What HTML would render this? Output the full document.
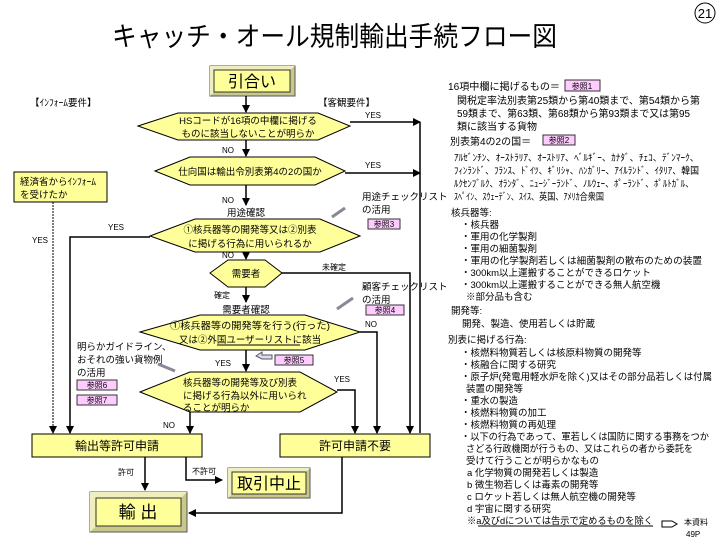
<!DOCTYPE html>
<html><head><meta charset="utf-8">
<style>
html,body{margin:0;padding:0;background:#fff;}
svg{display:block;}
text{font-family:"Liberation Sans","Noto Sans CJK JP",sans-serif;fill:#000;}
.s{font-size:9.5px;}
.xs{font-size:8px;}
.r{font-size:10px;}
</style></head><body>
<svg width="720" height="540" viewBox="0 0 720 540" xmlns="http://www.w3.org/2000/svg">
<defs>
<marker id="a" markerWidth="8" markerHeight="8" refX="7" refY="4" orient="auto" markerUnits="userSpaceOnUse">
<path d="M0,0 L8,4 L0,8 z" fill="#000"/></marker>
</defs>
<text x="112" y="46" style="font-size:27px" textLength="445" lengthAdjust="spacingAndGlyphs">キャッチ・オール規制輸出手続フロー図</text>
<circle cx="705" cy="13" r="10" fill="none" stroke="#000"/>
<text x="705" y="18" text-anchor="middle" style="font-size:13px">21</text>

<g>
<rect x="210" y="66" width="85" height="30" fill="#c8c88a" stroke="#555"/>
<polygon points="210,66 295,66 290,70 214,70 214,92 210,96" fill="#eeeec0"/>
<rect x="214" y="70" width="76" height="22" fill="#ffff99" stroke="#333"/>
<text x="252" y="87" text-anchor="middle" style="font-size:16px">引合い</text>
</g>
<g>
<rect x="228" y="468" width="82" height="30" fill="#c8c88a" stroke="#555"/>
<polygon points="228,468 310,468 306,472 232,472 232,494 228,498" fill="#eeeec0"/>
<rect x="232" y="472" width="74" height="22" fill="#ffff99" stroke="#333"/>
<text x="269" y="489" text-anchor="middle" style="font-size:16px">取引中止</text>
</g>
<g>
<rect x="90" y="492" width="97" height="40" fill="#c8c88a" stroke="#555"/>
<polygon points="90,492 187,492 181,498 96,498 96,526 90,532" fill="#eeeec0"/>
<rect x="96" y="498" width="85" height="28" fill="#ffff99" stroke="#333"/>
<text x="138" y="518" text-anchor="middle" style="font-size:17px">輸 出</text>
</g>

<text x="30" y="106" class="s">【ｲﾝﾌｫｰﾑ要件】</text>
<text x="318" y="106" class="s">【客観要件】</text>

<g fill="#ffff99" stroke="#000" stroke-width="1">
<polygon points="138,126 178,113 318,113 350,126 318,140 178,140"/>
<polygon points="155,171 190,157 315,157 345,171 315,185 190,185"/>
<polygon points="150,236 195,219 320,219 360,236 320,252 195,252"/>
<polygon points="210,273 228,260 265,260 282,273 265,287 228,287"/>
<polygon points="140,332 200,315 305,315 360,332 305,350 200,350"/>
<polygon points="140,392 190,372 300,372 337,392 300,412 190,412"/>
<rect x="14" y="172" width="93" height="30"/>
<rect x="32" y="434" width="170" height="23"/>
<rect x="280" y="434" width="150" height="23"/>
</g>
<text x="248" y="124" text-anchor="middle" class="s">HSコードが16項の中欄に掲げる</text>
<text x="248" y="137" text-anchor="middle" class="s">ものに該当しないことが明らか</text>
<text x="250" y="175" text-anchor="middle" class="s">仕向国は輸出令別表第4の2の国か</text>
<text x="250" y="233" text-anchor="middle" class="s">①核兵器等の開発等又は②別表</text>
<text x="250" y="247" text-anchor="middle" class="s">に掲げる行為に用いられるか</text>
<text x="246" y="277" text-anchor="middle" class="s">需要者</text>
<text x="250" y="329" text-anchor="middle" class="s" textLength="160" lengthAdjust="spacingAndGlyphs">①核兵器等の開発等を行う(行った)</text>
<text x="250" y="343" text-anchor="middle" class="s">又は②外国ユーザーリストに該当</text>
<line x1="217" y1="345" x2="300" y2="345" stroke="#000"/>
<text x="183" y="386" class="s">核兵器等の開発等及び別表</text>
<text x="183" y="399" class="s">に掲げる行為以外に用いられ</text>
<text x="183" y="411" class="s">ることが明らか</text>
<text x="20" y="185" class="s">経済省からｲﾝﾌｫｰﾑ</text>
<text x="20" y="198" class="s">を受けたか</text>
<text x="117" y="450" text-anchor="middle" style="font-size:12px">輸出等許可申請</text>
<text x="355" y="450" text-anchor="middle" style="font-size:12px">許可申請不要</text>

<g stroke="#000" stroke-width="1.5" fill="none">
<line x1="246" y1="96" x2="246" y2="112" marker-end="url(#a)"/>
<line x1="246" y1="140" x2="246" y2="156" marker-end="url(#a)"/>
<line x1="246" y1="185" x2="246" y2="205" marker-end="url(#a)"/>
<line x1="246" y1="252" x2="246" y2="259" marker-end="url(#a)"/>
<line x1="246" y1="287" x2="246" y2="302" marker-end="url(#a)"/>
<line x1="246" y1="350" x2="246" y2="371" marker-end="url(#a)"/>
<polyline points="350,122 420,122" marker-end="url(#a)"/>
<polyline points="345,173 420,173" marker-end="url(#a)"/>
<polyline points="150,237 70,237 70,433" marker-end="url(#a)"/>
<polyline points="282,273 410,273 410,433" marker-end="url(#a)"/>
<polyline points="360,332 377,332 377,433" marker-end="url(#a)"/>
<polyline points="337,390 355,390 355,433" marker-end="url(#a)"/>
<line x1="190" y1="412" x2="190" y2="433" marker-end="url(#a)"/>
<line x1="145" y1="457" x2="145" y2="490" marker-end="url(#a)"/>
<polyline points="186,457 186,480 222,480" marker-end="url(#a)"/>
<polyline points="342,457 342,513 189,513" marker-end="url(#a)"/>
</g>
<line x1="420" y1="122" x2="420" y2="433" stroke="#000" stroke-width="1.5"/>
<line x1="53" y1="202" x2="53" y2="433" stroke="#000" stroke-width="1" stroke-dasharray="2,1" marker-end="url(#a)"/>

<text x="365" y="118" class="xs">YES</text>
<text x="365" y="168" class="xs">YES</text>
<text x="222" y="153" class="xs">NO</text>
<text x="222" y="203" class="xs">NO</text>
<text x="222" y="258" class="xs">NO</text>
<text x="108" y="230" class="xs">YES</text>
<text x="32" y="243" class="xs">YES</text>
<text x="322" y="270" class="xs">未確定</text>
<text x="214" y="298" class="xs">確定</text>
<text x="365" y="327" class="xs">NO</text>
<text x="215" y="366" class="xs">YES</text>
<text x="334" y="382" class="xs">YES</text>
<text x="163" y="428" class="xs">NO</text>
<text x="118" y="475" class="xs">許可</text>
<text x="192" y="474" class="xs">不許可</text>
<text x="246" y="216" text-anchor="middle" class="s">用途確認</text>
<text x="246" y="313" text-anchor="middle" class="s">需要者確認</text>

<text x="362" y="200" class="s">用途チェックリスト</text>
<text x="362" y="213" class="s">の活用</text>
<text x="362" y="290" class="s">顧客チェックリスト</text>
<text x="362" y="303" class="s">の活用</text>
<text x="77" y="350" class="s">明らかガイドライン、</text>
<text x="77" y="363" class="s">おそれの強い貨物例</text>
<text x="77" y="376" class="s">の活用</text>

<g fill="#ffccff" stroke="#333">
<rect x="565" y="80" width="35" height="11"/>
<rect x="543" y="135" width="32" height="10"/>
<rect x="368" y="219" width="32" height="10"/>
<rect x="366" y="305" width="38" height="10"/>
<rect x="275" y="355" width="38" height="10"/>
<rect x="77" y="380" width="40" height="10"/>
<rect x="77" y="395" width="40" height="10"/>
</g>
<text x="582" y="89" text-anchor="middle" class="xs">参照1</text>
<text x="559" y="143" text-anchor="middle" class="xs">参照2</text>
<text x="384" y="227" text-anchor="middle" class="xs">参照3</text>
<text x="385" y="313" text-anchor="middle" class="xs">参照4</text>
<text x="294" y="363" text-anchor="middle" class="xs">参照5</text>
<text x="97" y="388" text-anchor="middle" class="xs">参照6</text>
<text x="97" y="403" text-anchor="middle" class="xs">参照7</text>
<g stroke="#889" stroke-width="3" fill="none">
<line x1="345" y1="208" x2="332" y2="217"/>
<line x1="353" y1="298" x2="337" y2="309"/>
<line x1="158" y1="364" x2="175" y2="371"/>
</g>
<path d="M256,356 L262,352 L262,355 L272,355 L272,359 L262,359 z" fill="#dde" stroke="#556"/>

<text x="448" y="90" class="r" textLength="112" lengthAdjust="spacingAndGlyphs">16項中欄に掲げるもの＝</text>
<text x="457" y="104" class="r" textLength="243" lengthAdjust="spacingAndGlyphs">関税定率法別表第25類から第40類まで、第54類から第</text>
<text x="457" y="117" class="r" textLength="233" lengthAdjust="spacingAndGlyphs">59類まで、第63類、第68類から第93類まで又は第95</text>
<text x="457" y="130" class="r">類に該当する貨物</text>
<text x="450" y="145" class="r">別表第4の2の国＝</text>
<text x="454" y="161" class="s" textLength="245" lengthAdjust="spacingAndGlyphs">ｱﾙｾﾞﾝﾁﾝ、ｵｰｽﾄﾗﾘｱ、ｵｰｽﾄﾘｱ、ﾍﾞﾙｷﾞｰ、ｶﾅﾀﾞ、ﾁｪｺ、ﾃﾞﾝﾏｰｸ、</text>
<text x="454" y="174" class="s" textLength="245" lengthAdjust="spacingAndGlyphs">ﾌｨﾝﾗﾝﾄﾞ、ﾌﾗﾝｽ、ﾄﾞｲﾂ、ｷﾞﾘｼｬ、ﾊﾝｶﾞﾘｰ、ｱｲﾙﾗﾝﾄﾞ、ｲﾀﾘｱ、韓国</text>
<text x="454" y="187" class="s" textLength="240" lengthAdjust="spacingAndGlyphs">ﾙｸｾﾝﾌﾞﾙｸ、ｵﾗﾝﾀﾞ、ﾆｭｰｼﾞｰﾗﾝﾄﾞ、ﾉﾙｳｪｰ、ﾎﾟｰﾗﾝﾄﾞ、ﾎﾟﾙﾄｶﾞﾙ、</text>
<text x="454" y="200" class="s" textLength="150" lengthAdjust="spacingAndGlyphs">ｽﾍﾟｲﾝ、ｽｳｪｰﾃﾞﾝ、ｽｲｽ、英国、ｱﾒﾘｶ合衆国</text>

<text x="451" y="216" class="s">核兵器等:</text>
<text x="461" y="228" class="s">・核兵器</text>
<text x="461" y="240" class="s">・軍用の化学製剤</text>
<text x="461" y="252" class="s">・軍用の細菌製剤</text>
<text x="461" y="264" class="s" textLength="241" lengthAdjust="spacingAndGlyphs">・軍用の化学製剤若しくは細菌製剤の散布のための装置</text>
<text x="461" y="276" class="s">・300km以上運搬することができるロケット</text>
<text x="461" y="288" class="s">・300km以上運搬することができる無人航空機</text>
<text x="466" y="300" class="s">※部分品も含む</text>
<text x="451" y="314" class="s">開発等:</text>
<text x="462" y="327" class="s">開発、製造、使用若しくは貯蔵</text>
<text x="448" y="343" class="s">別表に掲げる行為:</text>
<text x="461" y="356" class="s">・核燃料物質若しくは核原料物質の開発等</text>
<text x="461" y="368" class="s">・核融合に関する研究</text>
<text x="461" y="380" class="s" textLength="251" lengthAdjust="spacingAndGlyphs">・原子炉(発電用軽水炉を除く)又はその部分品若しくは付属</text>
<text x="466" y="392" class="s">装置の開発等</text>
<text x="461" y="404" class="s">・重水の製造</text>
<text x="461" y="416" class="s">・核燃料物質の加工</text>
<text x="461" y="428" class="s">・核燃料物質の再処理</text>
<text x="461" y="440" class="s" textLength="248" lengthAdjust="spacingAndGlyphs">・以下の行為であって、軍若しくは国防に関する事務をつか</text>
<text x="466" y="452" class="s" textLength="227" lengthAdjust="spacingAndGlyphs">さどる行政機関が行うもの、又はこれらの者から委託を</text>
<text x="466" y="464" class="s">受けて行うことが明らかなもの</text>
<text x="467" y="476" class="s">a 化学物質の開発若しくは製造</text>
<text x="467" y="488" class="s">b 微生物若しくは毒素の開発等</text>
<text x="467" y="500" class="s">c ロケット若しくは無人航空機の開発等</text>
<text x="467" y="512" class="s">d 宇宙に関する研究</text>
<text x="467" y="524" class="s" textLength="186" lengthAdjust="spacingAndGlyphs">※a及びdについては告示で定めるものを除く</text>
<line x1="478" y1="526" x2="653" y2="526" stroke="#000"/>
<path d="M662,521 L672,521 L677,524 L672,527 L662,527 z" fill="#fff" stroke="#000"/>
<text x="684" y="525" class="xs">本資料</text>
<text x="686" y="537" class="xs">49P</text>
</svg>
</body></html>
